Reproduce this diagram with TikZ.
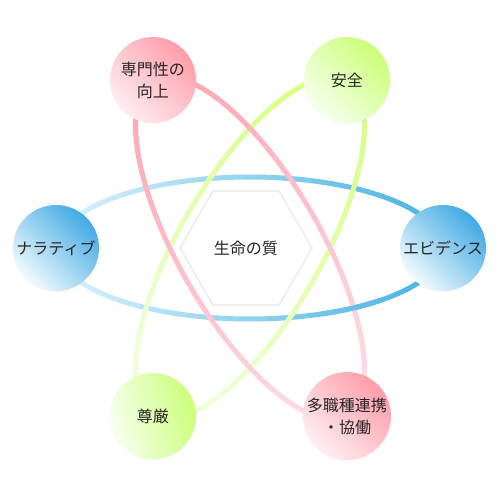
\documentclass[tikz,border=0pt]{standalone}
\usepackage{fontspec}
\newfontfamily\jpfont{Noto Sans CJK JP}
\usetikzlibrary{shapes.geometric,shadows}

\definecolor{bluedark}{HTML}{45B2E3}
\definecolor{bluelight}{HTML}{DDF3FB}
\definecolor{pinkdark}{HTML}{FFA6B2}
\definecolor{pinklight}{HTML}{FFDDE6}
\definecolor{greendark}{HTML}{D6FF7E}
\definecolor{greenlight}{HTML}{F1FFE6}

% parte di anello: rotazione, angoli, colore a 0 gradi, colore a 180 gradi
\newcommand{\ringpart}[4]{%
	\begin{scope}[rotate=#1]
		\foreach \ang in {#2} {
			\pgfmathsetmacro\mix{50*(1+cos(\ang+2))}
			\draw[ring, color=#3!\mix!#4] (\ang:193 and 71) arc[start angle=\ang, end angle=\ang+4, x radius=193, y radius=71];
		}
	\end{scope}}

\begin{document}
\begin{tikzpicture}[x=0.75pt, y=0.75pt,
		ring/.style={line width=3.75pt, line cap=round},
		bubble/.style={circle, minimum size=64.5pt, inner sep=0pt, align=center, text=black!85,
			font=\jpfont\fontsize{12}{16.5}\selectfont,
			circular drop shadow={shadow xshift=0.4pt, shadow yshift=-0.6pt, shadow scale=1.04, opacity=0.12}},
		bluebubble/.style={bubble, top color=bluedark!95!blue, bottom color=bluelight!40, shading angle=-45},
		pinkbubble/.style={bubble, top color=pinkdark!95!red, bottom color=pinklight!50, shading angle=-45},
		greenbubble/.style={bubble, top color=greendark!95!green, bottom color=greenlight!60, shading angle=-45}]
		\useasboundingbox (-250,-252) rectangle (250,248);
		
		% anelli
		\ringpart{0}{0,4,...,356}{bluedark}{bluelight}
		\ringpart{60}{0,4,...,356}{greendark}{greenlight}
		\ringpart{-60}{0,4,...,356}{pinklight}{pinkdark}
		\ringpart{0}{-68,-64,...,-52}{bluedark}{bluelight}
		
		% centro
		\node[regular polygon, regular polygon sides=6, minimum size=99pt, inner sep=0pt,
			fill=white, draw=black!6, line width=1.5pt, font=\jpfont\fontsize{12}{16.5}\selectfont, text=black!85]
			(quality) at (-4,0) {生命の質};
		
		% cerchi
		\node[bluebubble] (narrative) at (180:194) {ナラティブ};
		\node[bluebubble] (evidence) at (0:193) {エビデンス};
		\node[pinkbubble] (expertise) at (120:194) {専門性の\\向上};
		\node[greenbubble] (safety) at (60:194) {安全};
		\node[greenbubble, shading angle=-75] (dignity) at (240:194) {尊厳};
		\node[pinkbubble] (teamwork) at (300:194) {多職種連携\\・協働};
	\end{tikzpicture}
\end{document}
